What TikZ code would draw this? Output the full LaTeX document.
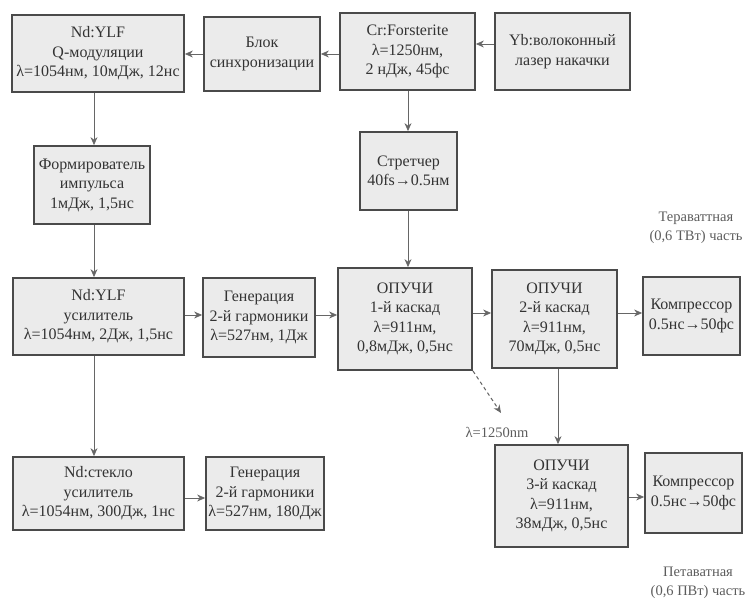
\documentclass[tikz,border=0pt]{standalone}
\usepackage{fontspec}
\setmainfont{Liberation Serif}
\usetikzlibrary{arrows.meta}
\definecolor{boxfill}{HTML}{EBEBEB}
\definecolor{boxline}{HTML}{4A4A4A}
\definecolor{txt}{HTML}{333333}
\definecolor{arr}{HTML}{666666}
\tikzset{
  blk/.style={draw=boxline, line width=1.8pt, fill=boxfill, text=txt, align=center,
    inner sep=0pt, font=\fontsize{16}{19.5}\selectfont},
  conn/.style={draw=arr, line width=0.8pt, -{Stealth[length=8pt,width=7pt]}},
  dconn/.style={conn, line width=1pt, dash pattern=on 3.5pt off 3pt},
  lbl/.style={text=txt!80, align=center, inner sep=0pt, font=\fontsize{14.5}{19}\selectfont}
}
\begin{document}
\begin{tikzpicture}[x=1pt,y=-1pt]
\useasboundingbox (0,0) rectangle (750,601);
% row 1
\node[blk, minimum width=172pt, minimum height=77pt] (q) at (98,53.5) {Nd:YLF\\Q-модуляции\\λ=1054нм, 10мДж, 12нс};
\node[blk, minimum width=116pt, minimum height=74pt] (sync) at (262,54) {Блок\\синхронизации};
\node[blk, minimum width=135pt, minimum height=77pt] (cr) at (407.5,51.5) {Cr:Forsterite\\λ=1250нм,\\2 нДж, 45фс};
\node[blk, minimum width=135pt, minimum height=77pt] (yb) at (562.5,51.5) {Yb:волоконный\\лазер накачки};
% row 2
\node[blk, minimum width=116pt, minimum height=78pt] (form) at (92,185) {Формирователь\\импульса\\1мДж, 1,5нс};
\node[blk, minimum width=97pt, minimum height=78pt] (str) at (408.5,171) {Стретчер\\40fs→0.5нм};
% row 3
\node[blk, minimum width=171pt, minimum height=77pt] (amp) at (98.5,316.5) {Nd:YLF\\усилитель\\λ=1054нм, 2Дж, 1,5нс};
\node[blk, minimum width=112pt, minimum height=79pt] (gen1) at (259,317.5) {Генерация\\2-й гармоники\\λ=527нм, 1Дж};
\node[blk, minimum width=134pt, minimum height=102pt] (op1) at (405,319) {ОПУЧИ\\1-й каскад\\λ=911нм,\\0,8мДж, 0,5нс};
\node[blk, minimum width=125pt, minimum height=98pt] (op2) at (554.5,319) {ОПУЧИ\\2-й каскад\\λ=911нм,\\70мДж, 0,5нс};
\node[blk, minimum width=97pt, minimum height=78pt] (c1) at (691.5,316) {Компрессор\\0.5нс→50фс};
% row 4
\node[blk, minimum width=171pt, minimum height=73pt] (gl) at (98.5,493.5) {Nd:стекло\\усилитель\\λ=1054нм, 300Дж, 1нс};
\node[blk, minimum width=118pt, minimum height=73pt] (gen2) at (265,493.5) {Генерация\\2-й гармоники\\λ=527нм, 180Дж};
\node[blk, minimum width=133pt, minimum height=102pt] (op3) at (561.5,496) {ОПУЧИ\\3-й каскад\\λ=911нм,\\38мДж, 0,5нс};
\node[blk, minimum width=97pt, minimum height=80pt] (c2) at (693.5,493) {Компрессор\\0.5нс→50фс};
% labels
\node[lbl] (tera) at (696,228) {Тераваттная\\(0,6 ТВт) часть};
\node[lbl] (peta) at (698,583) {Петаватная\\(0,6 ПВт) часть};
\node[lbl, font=\fontsize{14.5}{17}\selectfont] (lam) at (497,432) {λ=1250nm};
\coordinate (dend) at (501,413);
% connectors
\draw[conn] (sync.west |- 0,54) -- (q.east |- 0,54);
\draw[conn] (cr.west |- 0,54) -- (sync.east |- 0,54);
\draw[conn] (yb.west |- 0,44) -- (cr.east |- 0,44);
\draw[conn] (q.south -| 94,0) -- (form.north -| 94,0);
\draw[conn] (form.south -| 94,0) -- (amp.north -| 94,0);
\draw[conn] (amp.south -| 94,0) -- (gl.north -| 94,0);
\draw[conn] (cr.south -| 408,0) -- (str.north -| 408,0);
\draw[conn] (str.south -| 408,0) -- (op1.north -| 408,0);
\draw[conn] (amp.east |- 0,315) -- (gen1.west |- 0,315);
\draw[conn] (gen1.east |- 0,315) -- (op1.west |- 0,315);
\draw[conn] (op1.east |- 0,313) -- (op2.west |- 0,313);
\draw[conn] (op2.east |- 0,313) -- (c1.west |- 0,313);
\draw[conn] (op2.south -| 558,0) -- (op3.north -| 558,0);
\draw[conn] (op3.east |- 0,497) -- (c2.west |- 0,497);
\draw[conn] (gl.east |- 0,498) -- (gen2.west |- 0,498);
\draw[dconn] (473,371) -- (dend);
\end{tikzpicture}
\end{document}
